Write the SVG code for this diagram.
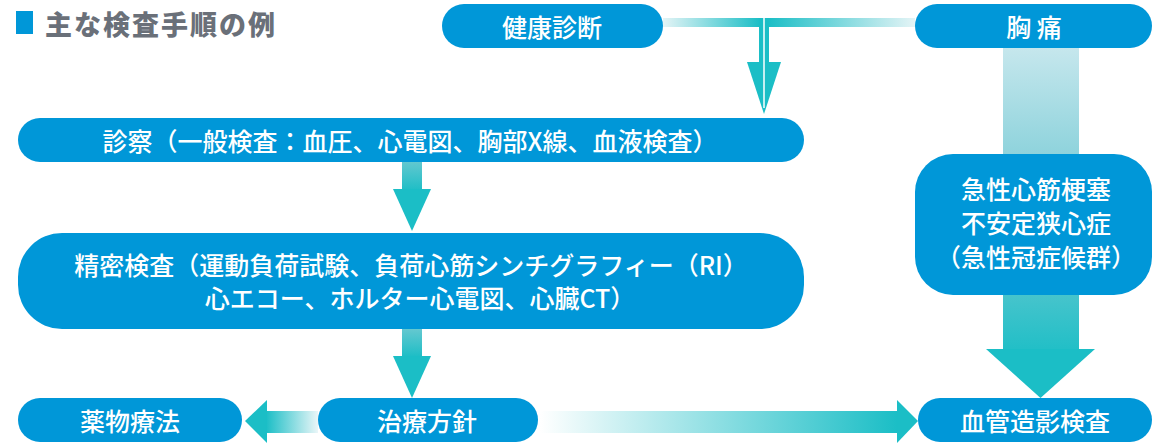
<svg xmlns="http://www.w3.org/2000/svg" width="1154" height="444" viewBox="0 0 1154 444">
<style>
.node{fill:#0097d8}
.lbl{fill:#fff;font-family:"Noto Sans CJK JP","Noto Sans CJK SC",sans-serif;font-size:25px;font-weight:500;text-anchor:middle;dominant-baseline:central}
.teal{fill:#1bbec6}
.title{fill:#6a7079;font-family:"Noto Sans CJK JP",sans-serif;font-size:27px;font-weight:900;dominant-baseline:central}
</style>
<defs>
<linearGradient id="gTL" gradientUnits="userSpaceOnUse" x1="663" y1="0" x2="760" y2="0"><stop offset="0" stop-color="#e4f4f6"/><stop offset="1" stop-color="#1bbec6"/></linearGradient>
<linearGradient id="gTR" gradientUnits="userSpaceOnUse" x1="768" y1="0" x2="915" y2="0"><stop offset="0" stop-color="#1bbec6"/><stop offset="1" stop-color="#e4f4f6"/></linearGradient>
<linearGradient id="gA1" gradientUnits="userSpaceOnUse" x1="0" y1="161" x2="0" y2="190"><stop offset="0" stop-color="#64c8d0"/><stop offset="1" stop-color="#1fbec6"/></linearGradient>
<linearGradient id="gA2" gradientUnits="userSpaceOnUse" x1="0" y1="329" x2="0" y2="356"><stop offset="0" stop-color="#64c8d0"/><stop offset="1" stop-color="#1fbec6"/></linearGradient>
<linearGradient id="gR1" gradientUnits="userSpaceOnUse" x1="0" y1="47" x2="0" y2="155"><stop offset="0" stop-color="#c6e7ed"/><stop offset="1" stop-color="#8ed3dc"/></linearGradient>
<linearGradient id="gR2" gradientUnits="userSpaceOnUse" x1="0" y1="295" x2="0" y2="349"><stop offset="0" stop-color="#46c4cc"/><stop offset="1" stop-color="#22bfc7"/></linearGradient>
<linearGradient id="gBL" gradientUnits="userSpaceOnUse" x1="266" y1="0" x2="318" y2="0"><stop offset="0" stop-color="#1bbec6"/><stop offset="1" stop-color="#eaf6f8"/></linearGradient>
<linearGradient id="gBR" gradientUnits="userSpaceOnUse" x1="540" y1="0" x2="897" y2="0"><stop offset="0" stop-color="#ffffff"/><stop offset="1" stop-color="#1bbec6"/></linearGradient>
</defs>
<g id="title">
<rect x="16" y="11" width="17" height="23" fill="#0097d8"/>
<text class="title" x="45" y="23" letter-spacing="2">主な検査手順の例</text>
</g>
<g id="connectors">
<rect x="663" y="18" width="100" height="9" fill="url(#gTL)"/>
<rect x="765" y="18" width="150" height="9" fill="url(#gTR)"/>
<rect x="759" y="18" width="10" height="46" class="teal"/>
<polygon points="747,62 781,62 764,114" class="teal"/>
<line x1="764" y1="18" x2="764" y2="108" stroke="#fff" stroke-width="1.5"/>
<rect x="402" y="161" width="20" height="29" fill="url(#gA1)"/>
<polygon points="393,189 431,189 412,231" class="teal"/>
<rect x="402" y="329" width="20" height="28" fill="url(#gA2)"/>
<polygon points="393,356 431,356 412,398" class="teal"/>
<rect x="1003" y="47" width="76" height="108" fill="url(#gR1)"/>
<rect x="1003" y="295" width="76" height="55" fill="url(#gR2)"/>
<polygon points="986,349 1095,349 1040.5,398" class="teal"/>
<rect x="266" y="411" width="52" height="22" fill="url(#gBL)"/>
<polygon points="245,421 267,400 267,443" class="teal"/>
<rect x="540" y="411" width="358" height="22" fill="url(#gBR)"/>
<polygon points="897,400 918,421 897,443" class="teal"/>
</g>
<g id="n-kenko">
<rect class="node" x="442" y="4" width="221" height="44" rx="22"/>
<text class="lbl" x="552" y="26">健康診断</text>
</g>
<g id="n-kyotsu">
<rect class="node" x="915" y="4" width="237" height="44" rx="22"/>
<text class="lbl" x="1034" y="26">胸 痛</text>
</g>
<g id="n-shinsatsu">
<rect class="node" x="18" y="118" width="786" height="44" rx="22"/>
<text class="lbl" x="410" y="140">診察（一般検査：血圧、心電図、胸部X線、血液検査）</text>
</g>
<g id="n-seimitsu">
<rect class="node" x="18" y="233" width="786" height="96" rx="44"/>
<text class="lbl" x="411" y="264">精密検査（運動負荷試験、負荷心筋シンチグラフィー（RI）</text>
<text class="lbl" x="420" y="297">心エコー、ホルター心電図、心臓CT）</text>
</g>
<g id="n-kyusei">
<rect class="node" x="915" y="154" width="237" height="141" rx="38"/>
<text class="lbl" x="1036" y="188">急性心筋梗塞</text>
<text class="lbl" x="1036" y="222">不安定狭心症</text>
<text class="lbl" x="1036" y="256">（急性冠症候群）</text>
</g>
<g id="n-yakubutsu">
<rect class="node" x="18" y="398" width="224" height="44" rx="22"/>
<text class="lbl" x="130" y="420">薬物療法</text>
</g>
<g id="n-chiryo">
<rect class="node" x="318" y="398" width="220" height="44" rx="22"/>
<text class="lbl" x="427" y="420">治療方針</text>
</g>
<g id="n-kekkan">
<rect class="node" x="918" y="398" width="234" height="44" rx="22"/>
<text class="lbl" x="1035" y="420">血管造影検査</text>
</g>
</svg>
